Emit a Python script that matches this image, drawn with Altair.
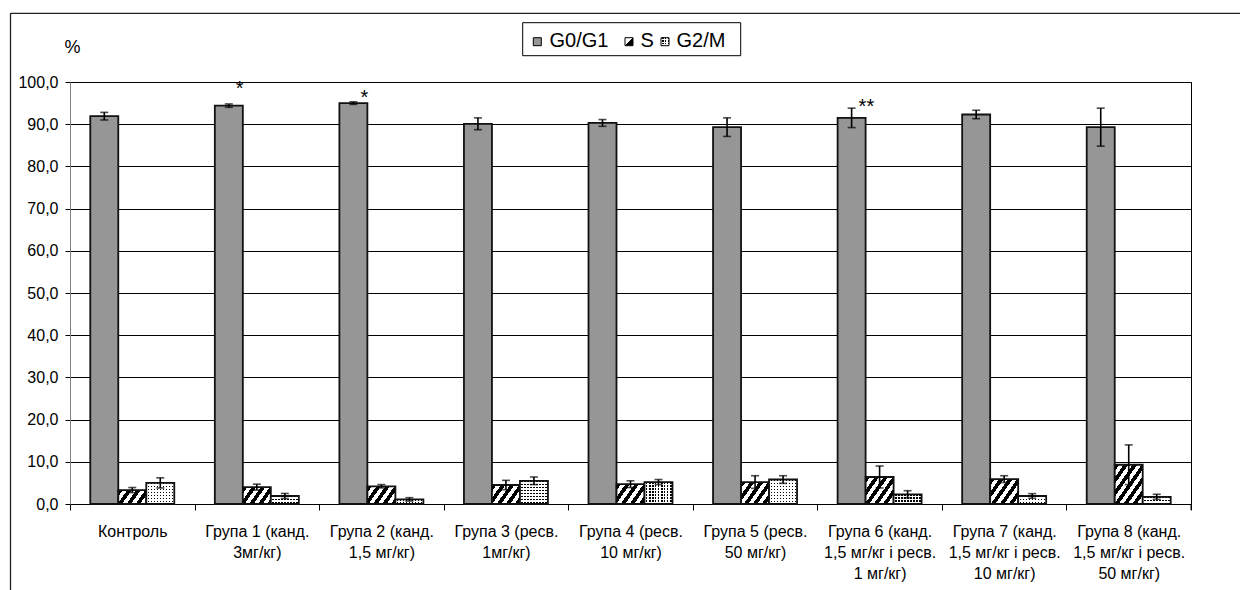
import math
import altair as alt
import pandas as pd

# ---- data -------------------------------------------------------------
groups = [
    "Контроль",
    "Група 1 (канд.\n3мг/кг)",
    "Група 2 (канд.\n1,5 мг/кг)",
    "Група 3 (ресв.\n1мг/кг)",
    "Група 4 (ресв.\n10 мг/кг)",
    "Група 5 (ресв.\n50 мг/кг)",
    "Група 6 (канд.\n1,5 мг/кг і ресв.\n1 мг/кг)",
    "Група 7 (канд.\n1,5 мг/кг і ресв.\n10 мг/кг)",
    "Група 8 (канд.\n1,5 мг/кг і ресв.\n50 мг/кг)",
]
phases = ["G0/G1", "S", "G2/M"]

g0_mean = [91.9, 94.4, 95.0, 90.1, 90.3, 89.3, 91.5, 92.3, 89.3]
g0_err = [0.9, 0.4, 0.3, 1.4, 0.8, 2.2, 2.3, 1.0, 4.5]
s_mean = [3.3, 4.0, 4.2, 4.5, 4.7, 5.2, 6.4, 5.9, 9.3]
s_err = [0.6, 0.7, 0.4, 1.1, 0.8, 1.5, 2.6, 0.8, 4.7]
g2m_mean = [5.0, 1.9, 1.1, 5.5, 5.2, 5.8, 2.3, 1.9, 1.7]
g2m_err = [1.2, 0.6, 0.4, 0.9, 0.6, 0.9, 0.85, 0.55, 0.6]

star_groups = [1, 2, 6]
star_text = ["*", "*", "**"]
star_level = [99.5, 97.4, 95.3]

y_ticks = [0, 10, 20, 30, 40, 50, 60, 70, 80, 90, 100]

# ---- layout -----------------------------------------------------------
W, H = 1121, 422
PX = H / 100.0
BAR_W = 28.0
STEP = W / len(groups)
OUTER = ((STEP - 3 * BAR_W) / 2) / BAR_W
FONT = "Liberation Sans"
EDGE = 1.8

rows = []
for i, g in enumerate(groups):
    for p, m, e in zip(phases, [g0_mean, s_mean, g2m_mean], [g0_err, s_err, g2m_err]):
        rows.append(dict(group=g, phase=p, value=m[i], lo=m[i] - e[i], hi=m[i] + e[i]))
df = pd.DataFrame(rows)

stars = pd.DataFrame({
    "group": [groups[i] for i in star_groups],
    "phase": ["G0/G1"] * len(star_groups),
    "txt": star_text,
    "value": star_level,
})


# ---- fill patterns ----------------------------------------------------
def band_stops(total, half, colors):
    stops, s, k = [], 0.0, 0
    while s < total - 1e-9:
        c = colors[k % 2]
        e = min(s + half, total)
        stops.append(alt.GradientStop(color=c, offset=round(s / total, 5)))
        stops.append(alt.GradientStop(color=c, offset=round(e / total, 5)))
        s, k = e, k + 1
    return stops


def hatch(w, h, period=9.0, angle=55.0):
    th = math.radians(angle)
    sn, cs = math.sin(th), math.cos(th)
    total = w * sn + h * cs
    k = total / (w * w * sn * sn + h * h * cs * cs)
    return alt.LinearGradient(
        gradient="linear",
        stops=band_stops(total, period * sn / 2, ["#000000", "#ffffff"]),
        x1=0, y1=0, x2=k * w * sn, y2=k * h * cs,
    )


def columns(w, period=3.0):
    return alt.LinearGradient(
        gradient="linear",
        stops=band_stops(w, period / 2, ["#ffffff", "#000000"]),
        x1=0, y1=0, x2=1, y2=0,
    )


def rows_mask(h, period=3.0):
    return alt.LinearGradient(
        gradient="linear",
        stops=band_stops(h, period / 2, ["rgba(255,255,255,0)", "#ffffff"]),
        x1=0, y1=0, x2=0, y2=1,
    )


# ---- encodings --------------------------------------------------------
x_axis = alt.Axis(
    title=None, labelAngle=0, labelExpr="split(datum.label, '\\n')",
    labelFont=FONT, labelFontSize=16, labelColor="#000", labelLineHeight=21,
    labelPadding=13, labelLimit=0, labelOverlap=False, labelBound=False,
    domainColor="#000", domainWidth=1, tickColor="#000", tickSize=6,
    tickBand="extent", grid=False,
)
y_axis = alt.Axis(
    title="%", titleAngle=0, titleX=2, titleY=-35, titleAlign="center",
    titleBaseline="middle", titleFont=FONT, titleFontSize=18,
    titleFontWeight="normal", titleColor="#000",
    values=y_ticks, labelExpr="replace(format(datum.value, '.1f'), '.', ',')",
    labelFont=FONT, labelFontSize=16, labelColor="#000", labelPadding=7,
    domainColor="#808080", domainWidth=1, tickColor="#000", tickSize=5,
    grid=True, gridColor="#000", gridWidth=1,
)
Y_SCALE = alt.Scale(domain=[0, 100], nice=False)
X = alt.X("group:N", sort=groups, axis=x_axis,
          scale=alt.Scale(domain=groups, paddingInner=0, paddingOuter=0))
XO = alt.XOffset("phase:N", sort=phases,
                 scale=alt.Scale(domain=phases, paddingInner=0, paddingOuter=OUTER))
Y = alt.Y("value:Q", axis=y_axis, scale=Y_SCALE)

base = alt.Chart(df).encode(x=X, xOffset=XO, y=Y)
layers = []

# G0/G1 columns
layers.append(
    base.transform_filter(alt.datum.phase == "G0/G1")
    .mark_bar(fill="#969696", stroke="#111", strokeWidth=EDGE)
)

# S columns: diagonal hatching, one pattern per bar height
for i, g in enumerate(groups):
    layers.append(
        base.transform_filter((alt.datum.phase == "S") & (alt.datum.group == g))
        .mark_bar(fill=hatch(BAR_W, s_mean[i] * PX), stroke="#111", strokeWidth=EDGE)
    )

# G2/M columns: dotted texture
g2m = base.transform_filter(alt.datum.phase == "G2/M")
layers.append(g2m.mark_bar(fill=columns(BAR_W), strokeWidth=0))
for i, g in enumerate(groups):
    layers.append(
        base.transform_filter((alt.datum.phase == "G2/M") & (alt.datum.group == g))
        .mark_bar(fill=rows_mask(g2m_mean[i] * PX), strokeWidth=0)
    )
layers.append(g2m.mark_bar(fill="transparent", stroke="#111", strokeWidth=EDGE))

# error bars
err = alt.Chart(df).encode(x=X, xOffset=XO)
layers.append(err.mark_rule(color="#000", strokeWidth=1.6).encode(
    y=alt.Y("lo:Q", axis=y_axis, scale=Y_SCALE), y2="hi:Q"))
for f in ["lo", "hi"]:
    layers.append(err.mark_tick(color="#000", thickness=1.6).encode(
        y=alt.Y(f"{f}:Q", axis=y_axis, scale=Y_SCALE), size=alt.value(8)))

# significance marks
layers.append(
    alt.Chart(stars).mark_text(font=FONT, fontSize=20, color="#000", align="left",
                               baseline="alphabetic", dx=7, dy=11)
    .encode(x=X, xOffset=XO, y=Y, text="txt:N")
)

# outer frame, closing tick at the right end of the category axis
one = alt.Chart(pd.DataFrame({"k": [0]}))
layers.append(one.mark_rule(color="#222", strokeWidth=1.3).encode(
    x=alt.value(-59.5), x2=alt.value(1200), y=alt.value(-68.7)))
layers.append(one.mark_rule(color="#222", strokeWidth=1.3).encode(
    x=alt.value(-59.5), y=alt.value(-68.7), y2=alt.value(520)))
layers.append(one.mark_rule(color="#000", strokeWidth=1).encode(
    x=alt.value(W), y=alt.value(H), y2=alt.value(H + 6)))

# legend
LY0, LY1 = -59.3, -26.3
layers.append(one.mark_rect(fill="#fff", stroke="#000", strokeWidth=1).encode(
    x=alt.value(452.7), x2=alt.value(670.7), y=alt.value(LY0), y2=alt.value(LY1)))
sym_x = [463.3, 555.0, 591.0]
txt_x = [479.5, 570.5, 606.5]
SY0, SY1 = -44.3, -36.3
layers.append(one.mark_rect(fill="#969696", stroke="#000", strokeWidth=1).encode(
    x=alt.value(sym_x[0]), x2=alt.value(sym_x[0] + 8), y=alt.value(SY0), y2=alt.value(SY1)))
layers.append(one.mark_rect(
    fill=alt.LinearGradient(gradient="linear", x1=0, y1=0, x2=1, y2=1, stops=[
        alt.GradientStop(color="#ffffff", offset=0), alt.GradientStop(color="#ffffff", offset=0.5),
        alt.GradientStop(color="#000000", offset=0.5), alt.GradientStop(color="#000000", offset=1)]),
    stroke="#000", strokeWidth=1).encode(
    x=alt.value(sym_x[1]), x2=alt.value(sym_x[1] + 8), y=alt.value(SY0), y2=alt.value(SY1)))
layers.append(one.mark_rect(fill=columns(8, 2.7), strokeWidth=0).encode(
    x=alt.value(sym_x[2]), x2=alt.value(sym_x[2] + 8), y=alt.value(SY0), y2=alt.value(SY1)))
layers.append(one.mark_rect(fill=rows_mask(8, 2.7), strokeWidth=0).encode(
    x=alt.value(sym_x[2]), x2=alt.value(sym_x[2] + 8), y=alt.value(SY0), y2=alt.value(SY1)))
layers.append(one.mark_rect(fill="transparent", stroke="#000", strokeWidth=1).encode(
    x=alt.value(sym_x[2]), x2=alt.value(sym_x[2] + 8), y=alt.value(SY0), y2=alt.value(SY1)))
for p, tx in zip(phases, txt_x):
    layers.append(one.mark_text(text=p, font=FONT, fontSize=20, color="#000",
                                align="left", baseline="middle").encode(
        x=alt.value(tx), y=alt.value(-41)))

chart = alt.layer(*layers).properties(
    width=W, height=H,
    autosize=alt.AutoSizeParams(type="none"),
    padding={"left": 70, "top": 82, "right": 49, "bottom": 86},
    background="#ffffff",
).configure_view(stroke="#000", strokeWidth=1)

chart.save("out.html", embed_options={"renderer": "svg", "actions": False})
